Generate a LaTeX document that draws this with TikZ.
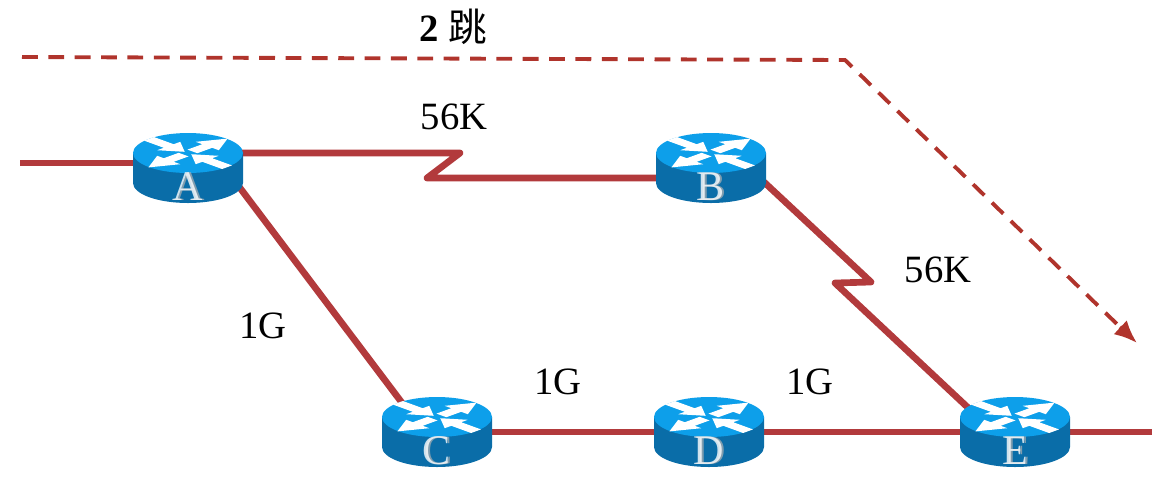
\documentclass[tikz,border=0pt]{standalone}
\usepackage{fontspec}
\setmainfont{Liberation Serif}
\newfontfamily\cjkfont{Noto Sans CJK SC}
\usetikzlibrary{backgrounds,arrows.meta}
\definecolor{linkred}{HTML}{B23A3C}
\definecolor{pathred}{HTML}{B0342C}
\definecolor{routertop}{HTML}{0D9FEA}
\definecolor{routerside}{HTML}{0A6DA8}
\tikzset{
  routerbox/.style={minimum width=2.2cm, minimum height=1.4cm, inner sep=0pt},
  link/.style={draw=linkred, line width=3.8pt, line join=round},
  hops/.style={draw=pathred, line width=2.2pt, dash pattern=on 9pt off 6pt},
  rate/.style={font=\fontsize{22}{24}\selectfont, inner sep=0pt},
  letter/.style={font=\fontsize{24}{26}\selectfont, inner sep=0pt}
}
% router icon: node #1 at (#2,#3), printed letter #1
\newcommand{\router}[3]{
  \node[routerbox] (#1) at (#2,#3) {};
  \fill[routerside] (#2-55,#3-15) -- (#2-55,#3+15)
    arc[start angle=180, end angle=0, x radius=55, y radius=20]
    -- (#2+55,#3-15) -- cycle;
  \fill[routertop] (#2,#3-15) ellipse[x radius=55, y radius=20];
  \begin{scope}[shift={(#2,#3-15)}, x=1.1cm, y=0.4cm]
    \foreach \sx/\sy in {1/1,-1/-1}
      \fill[white, xscale=\sx, yscale=\sy] (0.17,-0.01) -- (0.44,0.26) -- (0.56,0.14) -- (0.72,0.72)
        -- (0.14,0.56) -- (0.26,0.44) -- (-0.01,0.17) -- cycle;
    \foreach \sx/\sy in {-1/1,1/-1}
      \fill[white, xscale=\sx, yscale=\sy] (0.06,0.06) -- (0.56,0.14) -- (0.44,0.26) -- (0.8,0.62)
        -- (0.62,0.8) -- (0.26,0.44) -- (0.14,0.56) -- cycle;
  \end{scope}
  \node[letter, text=gray!60, text opacity=0.7] (#1-shade) at (#2+2,#3+19) {#1};
  \node[letter, text=white, text opacity=0.8] (#1-name) at (#2,#3+19) {#1};
}
\begin{document}
\begin{tikzpicture}[>=latex, x=0.02cm, y=-0.02cm]
\useasboundingbox (0,0) rectangle (1174,485);
\router{A}{188}{168}
\router{B}{711}{168}
\router{C}{437}{432}
\router{D}{709}{432}
\router{E}{1015}{432}
\coordinate (in) at (20,163);
\coordinate (out) at (1152,432);
\coordinate (ab1) at (460,153);
\coordinate (ab2) at (427,178);
\coordinate (be1) at (871,282);
\coordinate (be2) at (835,283);
\coordinate (start) at (22,57);
\coordinate (bend) at (845,60);
\coordinate (tipstart) at (1120,327);
\coordinate (tip) at (1137,343);
\begin{scope}[on background layer]
\draw[link] (in) -- (A.center |- in);
\draw[link] (A.center |- ab1) -- (ab1) -- (ab2) -- (B.center |- ab2);
\draw[link] ([xshift=0.76cm]B.center) -- (be1) -- (be2) -- ([xshift=-0.42cm]E.center);
\draw[link] ([xshift=0.74cm]A.center) -- ([xshift=-0.26cm]C.center);
\draw[link] (C.center) -- (D.center);
\draw[link] (D.center) -- (E.center);
\draw[link] (E.center) -- (out);
\end{scope}
\draw[hops] (start) -- (bend) -- (tipstart);
\draw[-{Latex[length=13pt,width=11pt]}, draw=pathred, fill=red!75!black, line width=2.2pt] (tipstart) -- (tip);
\node[font=\fontsize{22}{24}\selectfont\bfseries, inner sep=0pt] (hopcount) at (453,27) {2 {\mdseries\cjkfont 跳}};
\node[rate] (rate1) at (454,117) {56K};
\node[rate] (rate2) at (938,270) {56K};
\node[rate] (rate3) at (263,326) {1G};
\node[rate] (rate4) at (558,382) {1G};
\node[rate] (rate5) at (810,382) {1G};
\end{tikzpicture}
\end{document}
